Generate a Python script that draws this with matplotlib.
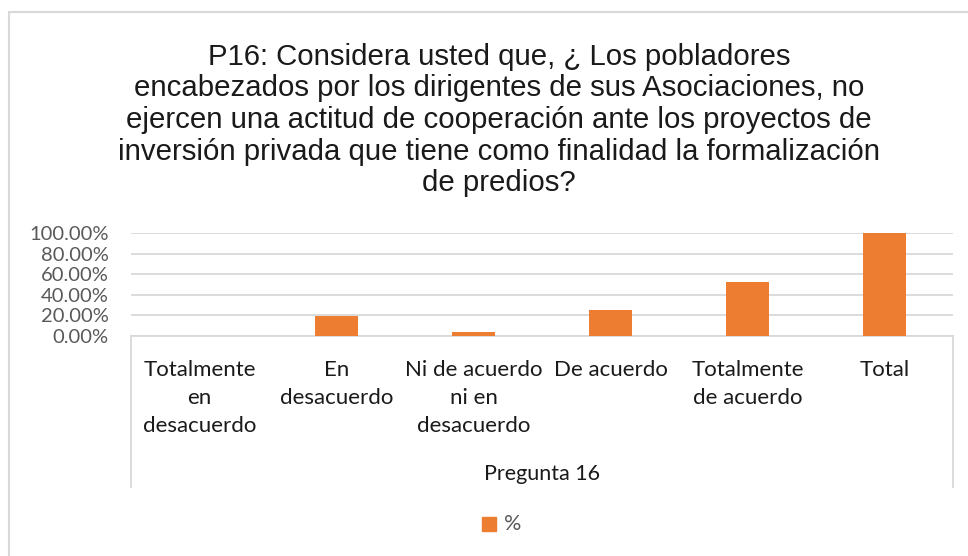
import matplotlib
matplotlib.use('Agg')
import matplotlib.pyplot as plt
from matplotlib.lines import Line2D
from matplotlib.patches import Rectangle
from matplotlib.ticker import FuncFormatter

categories = ['Totalmente\nen\ndesacuerdo', 'En\ndesacuerdo', 'Ni de acuerdo\nni en\ndesacuerdo',
              'De acuerdo', 'Totalmente\nde acuerdo', 'Total']
values = [0.0, 0.19, 0.04, 0.25, 0.52, 1.0]
yticks = [0.0, 0.2, 0.4, 0.6, 0.8, 1.0]
title = ('P16: Considera usted que, ¿ Los pobladores\n'
         'encabezados por los dirigentes de sus Asociaciones, no\n'
         'ejercen una actitud de cooperación ante los proyectos de\n'
         'inversión privada que tiene como finalidad la formalización\n'
         'de predios?')
axis_title = 'Pregunta 16'
series_name = '%'

W, H = 968, 556
orange = '#ed7d31'
grid_c = '#d9d9d9'
label_font = ['Lato', 'DejaVu Sans']


def fx(px):
    return px / W


def fy(py):
    return 1 - py / H


fig = plt.figure(figsize=(W / 100, H / 100), dpi=100)
fig.patch.set_facecolor('white')

# chart border (runs off the right and bottom edges in the reference)
fig.add_artist(Rectangle((fx(9), fy(600)), fx(1000), 588 / H, transform=fig.transFigure,
                         fill=False, edgecolor=grid_c, lw=1.5))

left, right, top, base = 131, 953, 233, 336
ax = fig.add_axes([fx(left), fy(base), (right - left) / W, (base - top) / H])
x = range(len(categories))
ax.bar(x, values, width=0.31, color=orange, zorder=3)
ax.set_xlim(-0.5, len(categories) - 0.5)
ax.set_ylim(0, 1.0)
ax.set_yticks(yticks)
ax.yaxis.set_major_formatter(FuncFormatter(lambda v, p: f'{v * 100:.2f}%'))
ax.grid(axis='y', color=grid_c, lw=1.3, zorder=0)
for s in ['top', 'left', 'right']:
    ax.spines[s].set_visible(False)
ax.spines['bottom'].set_color(grid_c)
ax.spines['bottom'].set_linewidth(1.3)
ax.tick_params(axis='both', length=0)
ax.tick_params(axis='y', pad=16, labelsize=14.5, labelcolor='#595959')
for t in ax.get_yticklabels():
    t.set_family(label_font)

ax.set_xticks(list(x))
ax.set_xticklabels(categories, fontsize=16, family=label_font, linespacing=1.52,
                   va='top', ha='center', color='#1a1a1a')
ax.tick_params(axis='x', pad=17)

# vertical separators of the category axis
for xp in (left, right):
    fig.add_artist(Line2D([fx(xp), fx(xp)], [fy(base), fy(487)],
                          transform=fig.transFigure, color=grid_c, lw=1.3))

fig.text(fx((left + right) / 2), fy(474), axis_title, ha='center', va='center',
         fontsize=15.5, family=label_font, color='#1a1a1a')

fig.text(fx(499), fy(120), title, ha='center', va='center', fontsize=21.2,
         family=['Liberation Sans', 'DejaVu Sans'], linespacing=1.17, color='#1a1a1a')

# legend
fig.add_artist(Rectangle((fx(482), fy(531)), 14 / W, 14 / H, transform=fig.transFigure,
                         color=orange))
fig.text(fx(504), fy(524), series_name, ha='left', va='center', fontsize=15.5,
         family=label_font, color='#595959')

fig.savefig('out.png', dpi=100)
